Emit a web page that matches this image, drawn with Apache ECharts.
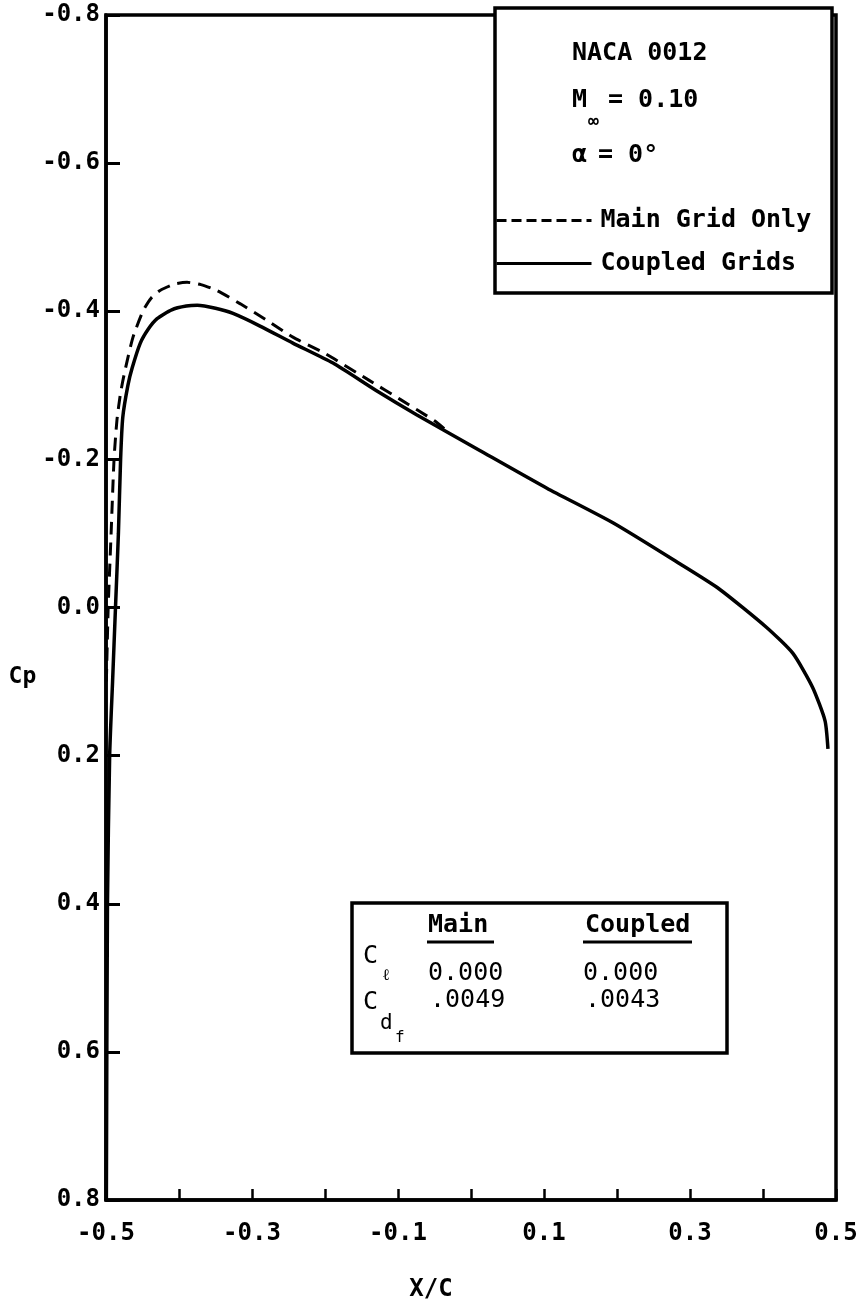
<!DOCTYPE html>
<html>
<head>
<meta charset="utf-8">
<script src="https://cdn.jsdelivr.net/npm/echarts@6/dist/echarts.min.js"></script>
<style>
  html, body { margin: 0; padding: 0; background: #fff; }
  #chart { width: 865px; height: 1312px; }
</style>
</head>
<body>
<div id="chart"></div>
<script>
// 曲线数据 (X/C, Cp)
const coupledX = [-0.4995, -0.498, -0.495, -0.491, -0.487, -0.483, -0.480, -0.477, -0.470, -0.464, -0.453, -0.442,
  -0.430, -0.410, -0.390, -0.375, -0.350, -0.326, -0.289, -0.244, -0.189, -0.130, -0.074, 0.012, 0.104, 0.195,
  0.286, 0.340, 0.405, 0.441, 0.468, 0.485, 0.489];
const coupledCp = [0.80, 0.40, 0.20, 0.10, 0.00, -0.10, -0.20, -0.257, -0.300, -0.324, -0.357, -0.376,
  -0.390, -0.402, -0.407, -0.408, -0.404, -0.397, -0.380, -0.357, -0.330, -0.293, -0.260, -0.212, -0.161, -0.114,
  -0.059, -0.025, 0.027, 0.062, 0.108, 0.153, 0.191];

const mainX = [-0.4995, -0.497, -0.493, -0.489, -0.485, -0.480, -0.474, -0.463, -0.449, -0.438, -0.426, -0.405,
  -0.389, -0.370, -0.348, -0.316, -0.280, -0.244, -0.200, -0.140, -0.097, -0.050, -0.030];
const mainCp = [0.10, 0.00, -0.10, -0.20, -0.253, -0.290, -0.320, -0.365, -0.401, -0.418, -0.428, -0.437,
  -0.439, -0.436, -0.428, -0.410, -0.388, -0.365, -0.343, -0.307, -0.281, -0.252, -0.236];

const seriesNames = ['Main Grid Only', 'Coupled Grids'];
const headerLines = ['NACA 0012', 'M', '∞', '= 0.10', 'α', '= 0°'];
const colHeads = ['Main', 'Coupled'];
const clValues = ['0.000', '0.000'];
const cdValues = ['.0049', '.0043'];

const FONT = 'DejaVu Sans Mono';

function pairs(xs, ys) {
  return xs.map((x, i) => [x, ys[i]]);
}

let chart = echarts.init(document.getElementById('chart'));

function txt(x, y, text, size, weight) {
  return {
    type: 'text', x: x, y: y, z: 100,
    style: {
      text: text, fill: '#000', font: (weight || 'bold') + ' ' + size + 'px "' + FONT + '"',
      textAlign: 'left', textVerticalAlign: 'middle'
    }
  };
}
function seg(x1, y1, x2, y2, w) {
  return { type: 'line', z: 100, shape: {x1: x1, y1: y1, x2: x2, y2: y2}, style: {stroke: '#000', lineWidth: w} };
}

let option = {
  backgroundColor: '#fff',
  animation: false,
  grid: {
    left: 106, right: 29, top: 15, bottom: 112,
    show: true, borderColor: '#000', borderWidth: 3.5, backgroundColor: 'transparent'
  },
  legend: {
    orient: 'vertical',
    left: 490, top: 203, z: 120,
    itemWidth: 95, itemHeight: 14, itemGap: 18,
    itemStyle: {opacity: 0},
    textStyle: {fontFamily: FONT, fontWeight: 'bold', fontSize: 25, color: '#000', padding: [0, 0, 0, 4]},
    data: [
      {name: seriesNames[0], lineStyle: {type: [10, 5], width: 3, opacity: 1}},
      {name: seriesNames[1], lineStyle: {width: 3, opacity: 1}}
    ]
  },
  xAxis: {
    type: 'value',
    min: -0.5, max: 0.5, interval: 0.1,
    name: 'X/C', nameLocation: 'middle', nameGap: 78,
    nameTextStyle: {fontFamily: FONT, fontWeight: 'bold', fontSize: 24, color: '#000', padding: [0, 80, 0, 0]},
    axisLine: {show: true, onZero: false, lineStyle: {color: '#000', width: 3.5}},
    axisTick: {show: true, inside: true, length: 11, lineStyle: {color: '#000', width: 2.5}},
    axisLabel: {
      margin: 22, color: '#000', fontFamily: FONT, fontWeight: 'bold', fontSize: 24,
      formatter: v => (Math.abs(Math.round(v * 10)) % 2 === 1 ? v.toFixed(1) : '')
    },
    splitLine: {show: false}
  },
  yAxis: {
    type: 'value',
    inverse: true,
    min: -0.8, max: 0.8, interval: 0.2,
    name: 'Cp', nameLocation: 'middle', nameGap: 55, nameRotate: 0,
    nameTextStyle: {fontFamily: FONT, fontWeight: 'bold', fontSize: 23, color: '#000',
      verticalAlign: 'top', lineHeight: 140},
    axisLine: {show: true, onZero: false, lineStyle: {color: '#000', width: 3.5}},
    axisTick: {show: true, inside: true, length: 14, lineStyle: {color: '#000', width: 3}},
    axisLabel: {
      margin: 6, color: '#000', fontFamily: FONT, fontWeight: 'bold', fontSize: 24,
      formatter: v => v.toFixed(1)
    },
    splitLine: {show: false}
  },
  series: [
    {
      name: seriesNames[0], type: 'line', symbol: 'none',
      smooth: 0.2,
      lineStyle: {color: '#000', width: 3, type: [13, 8]},
      itemStyle: {color: '#000'},
      data: pairs(mainX, mainCp)
    },
    {
      name: seriesNames[1], type: 'line', symbol: 'none',
      smooth: 0.2,
      lineStyle: {color: '#000', width: 3.5},
      itemStyle: {color: '#000'},
      data: pairs(coupledX, coupledCp)
    }
  ],
  graphic: [
    // 工况说明框
    {type: 'rect', z: 90, shape: {x: 495, y: 8, width: 337, height: 285},
      style: {fill: '#fff', stroke: '#000', lineWidth: 3.5}},
    txt(572, 53, headerLines[0], 25),
    txt(572, 100, headerLines[1], 25),
    txt(588, 122, headerLines[2], 18),
    txt(608, 100, headerLines[3], 25),
    txt(572, 155, headerLines[4], 25),
    txt(598, 155, headerLines[5], 25),
    // 系数表
    {type: 'rect', z: 90, shape: {x: 352, y: 903, width: 375, height: 150},
      style: {fill: '#fff', stroke: '#000', lineWidth: 3.5}},
    txt(428, 925, colHeads[0], 25),
    txt(585, 925, colHeads[1], 25),
    seg(427, 942, 494, 942, 3),
    seg(583, 942, 692, 942, 3),
    txt(363, 956, 'C', 25, 'normal'),
    txt(382, 976, 'ℓ', 16, 'normal'),
    txt(428, 973, clValues[0], 25, 'normal'),
    txt(583, 973, clValues[1], 25, 'normal'),
    txt(363, 1002, 'C', 25, 'normal'),
    txt(380, 1024, 'd', 21, 'normal'),
    txt(395, 1038, 'f', 16, 'normal'),
    txt(430, 1000, cdValues[0], 25, 'normal'),
    txt(585, 1000, cdValues[1], 25, 'normal')
  ]
};

chart.setOption(option);
</script>
</body>
</html>
